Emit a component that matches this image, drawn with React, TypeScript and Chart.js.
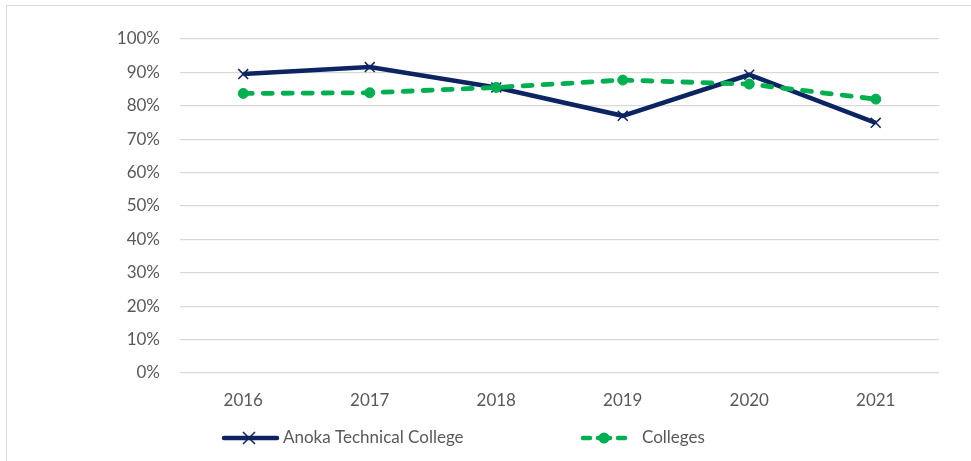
import React, { useEffect, useRef } from "react";
import { Chart, registerables } from "chart.js";

Chart.register(...registerables);

const years = ["2016", "2017", "2018", "2019", "2020", "2021"];
const anokaValues = [89.5, 91.6, 85.5, 77.0, 89.3, 74.9];
const collegesValues = [83.7, 83.9, 85.5, 87.7, 86.5, 82.0];
const seriesLabels = ["Anoka Technical College", "Colleges"];

const NAVY = "#0c2461";
const GREEN = "#00b050";
const TEXT = "#595959";
const GRID = "#d9d9d9";
const FONT = "Lato, 'Open Sans', sans-serif";

const legendPlugin = {
  id: "customLegend",
  afterDraw(chart: any) {
    const ctx = chart.ctx;
    const y = 438;
    ctx.save();
    // Anoka
    ctx.strokeStyle = NAVY;
    ctx.lineWidth = 4.5;
    ctx.lineCap = "round";
    ctx.setLineDash([]);
    ctx.beginPath();
    ctx.moveTo(224, y);
    ctx.lineTo(277, y);
    ctx.stroke();
    ctx.lineWidth = 1.5;
    ctx.lineCap = "butt";
    ctx.beginPath();
    const cx = 249, r = 6;
    ctx.moveTo(cx - r, y - r);
    ctx.lineTo(cx + r, y + r);
    ctx.moveTo(cx + r, y - r);
    ctx.lineTo(cx - r, y + r);
    ctx.stroke();
    // Colleges
    ctx.strokeStyle = GREEN;
    ctx.lineWidth = 4.5;
    ctx.lineCap = "round";
    ctx.beginPath();
    ctx.moveTo(583, y);
    ctx.lineTo(590, y);
    ctx.moveTo(618, y);
    ctx.lineTo(625, y);
    ctx.stroke();
    ctx.fillStyle = GREEN;
    ctx.beginPath();
    ctx.arc(604, y, 5.5, 0, Math.PI * 2);
    ctx.fill();
    ctx.lineWidth = 4.5;
    ctx.beginPath();
    ctx.moveTo(598, y);
    ctx.lineTo(610, y);
    ctx.stroke();
    // text
    ctx.fillStyle = TEXT;
    ctx.font = "17px " + FONT;
    ctx.textBaseline = "middle";
    ctx.textAlign = "left";
    ctx.fillText(chart.data.datasets[0].label, 283, y);
    ctx.fillText(chart.data.datasets[1].label, 642, y);
    ctx.restore();
  },
};

export default function App() {
  const ref = useRef<HTMLCanvasElement>(null);
  useEffect(() => {
    if (!ref.current) return;
    const chart = new Chart(ref.current, {
      type: "line",
      data: {
        labels: years,
        datasets: [
          {
            label: seriesLabels[0],
            data: anokaValues,
            borderColor: NAVY,
            backgroundColor: NAVY,
            borderWidth: 4.5,
            pointStyle: "crossRot",
            pointRadius: 7,
            pointBorderWidth: 1.5,
            pointBorderColor: NAVY,
            tension: 0,
            order: 1,
          },
          {
            label: seriesLabels[1],
            data: collegesValues,
            borderColor: GREEN,
            backgroundColor: GREEN,
            borderWidth: 4.8,
            borderDash: [9, 11],
            borderCapStyle: "round",
            pointStyle: "circle",
            pointRadius: 5,
            pointBorderWidth: 1,
            pointBorderColor: GREEN,
            tension: 0,
            order: 0,
          },
        ],
      },
      options: {
        responsive: false,
        animation: false,
        layout: { padding: { top: 39, right: 32, left: 0, bottom: 0 } },
        plugins: { legend: { display: false }, tooltip: { enabled: false } },
        scales: {
          x: {
            offset: true,
            grid: { display: false, drawTicks: false },
            border: { display: false },
            ticks: { color: TEXT, font: { family: FONT, size: 17 }, padding: 17 },
            afterFit: (s: any) => {
              s.height = 88;
            },
          },
          y: {
            min: 0,
            max: 100,
            grid: { color: GRID, lineWidth: 1.3, drawTicks: false },
            border: { display: false },
            ticks: {
              stepSize: 10,
              color: TEXT,
              font: { family: FONT, size: 17 },
              padding: 20,
              callback: (v: any) => v + "%",
            },
            afterFit: (s: any) => {
              s.width = 180;
            },
          },
        },
      },
      plugins: [legendPlugin],
    });
    return () => chart.destroy();
  }, []);
  return (
    <div style={{ position: "fixed", left: 0, top: 0, width: 971, height: 461, overflow: "hidden", background: "#fff" }}>
      <div
        style={{
          position: "absolute",
          left: 6,
          top: 5,
          width: 1100,
          height: 600,
          border: "1.5px solid #d9d9d9",
        }}
      />
      <canvas ref={ref} width={971} height={461} style={{ position: "absolute", left: 0, top: 0 }} />
    </div>
  );
}
